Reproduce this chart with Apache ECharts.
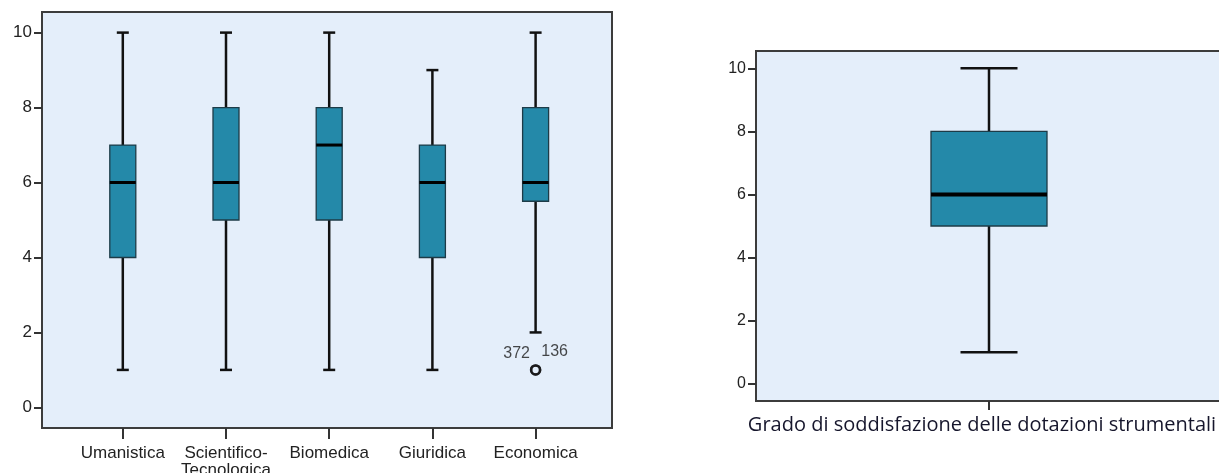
<!DOCTYPE html>
<html>
<head>
<meta charset="utf-8">
<script src="https://cdn.jsdelivr.net/npm/echarts@6/dist/echarts.min.js"></script>
<style>
  html, body { margin: 0; padding: 0; background: #ffffff; }
  #chart { width: 1219px; height: 473px; }
</style>
</head>
<body>
<div id="chart"></div>
<script>
// ---- Data ----
const categories = ['Umanistica', 'Scientifico-\nTecnologica', 'Biomedica', 'Giuridica', 'Economica'];
const mins    = [1, 1, 1, 1, 2];
const q1s     = [4, 5, 5, 4, 5.5];
const medians = [6, 6, 7, 6, 6];
const q3s     = [7, 8, 8, 7, 8];
const maxs    = [10, 10, 10, 9, 10];
const outlierCategoryIndex = 4;
const outlierValue = 1;
const outlierIds = ['372', '136'];

const totalCategory = ['Grado di soddisfazione delle dotazioni strumentali'];
const totalStats = [1, 5, 6, 8, 10]; // min, q1, median, q3, max

const yTicks = [0, 2, 4, 6, 8, 10];

// ---- Styles ----
const BG = '#E4EEFA';
const FRAME = '#3c3c3c';
const BOX_FILL = '#2489A9';
const BOX_STROKE = '#1d3b47';
const LINE = '#111111';

function makeRender(boxW, capW, medW) {
  return function (params, api) {
    const x = api.value(0);
    const pMin = api.coord([x, api.value(1)]);
    const pQ1 = api.coord([x, api.value(2)]);
    const pMed = api.coord([x, api.value(3)]);
    const pQ3 = api.coord([x, api.value(4)]);
    const pMax = api.coord([x, api.value(5)]);
    const cx = pMed[0];
    const lw = 2.5;
    const ls = { stroke: LINE, lineWidth: lw };
    return {
      type: 'group',
      children: [
        { type: 'line', shape: { x1: cx, y1: pMax[1], x2: cx, y2: pQ3[1] }, style: ls },
        { type: 'line', shape: { x1: cx, y1: pQ1[1], x2: cx, y2: pMin[1] }, style: ls },
        { type: 'line', shape: { x1: cx - capW / 2, y1: pMax[1], x2: cx + capW / 2, y2: pMax[1] }, style: ls },
        { type: 'line', shape: { x1: cx - capW / 2, y1: pMin[1], x2: cx + capW / 2, y2: pMin[1] }, style: ls },
        { type: 'rect', shape: { x: cx - boxW / 2, y: pQ3[1], width: boxW, height: pQ1[1] - pQ3[1] },
          style: { fill: BOX_FILL, stroke: BOX_STROKE, lineWidth: 1.3 } },
        { type: 'line', shape: { x1: cx - boxW / 2, y1: pMed[1], x2: cx + boxW / 2, y2: pMed[1] },
          style: { stroke: '#000000', lineWidth: medW } }
      ]
    };
  };
}

const leftData = categories.map((c, i) => [i, mins[i], q1s[i], medians[i], q3s[i], maxs[i]]);
const rightData = [[0].concat(totalStats)];

const yAxisCommon = (offset, fontSize) => ({
  type: 'value',
  min: -0.55,
  max: 10.55,
  offset: offset,
  axisLine: { show: false },
  splitLine: { show: false },
  axisTick: { show: true, customValues: yTicks, length: 8, lineStyle: { color: '#333', width: 2 } },
  axisLabel: { customValues: yTicks, fontFamily: 'Liberation Sans, Arial', fontSize: fontSize, color: '#222', margin: 10 }
});

const chart = echarts.init(document.getElementById('chart'), null, { renderer: 'canvas' });
chart.setOption({
  animation: false,
  backgroundColor: '#ffffff',
  grid: [
    { left: 42, top: 12, width: 570, height: 416, show: true, backgroundColor: BG, borderColor: FRAME, borderWidth: 2, outerBoundsMode: 'none', containLabel: false },
    { left: 71.2, top: 12, width: 516, height: 416, show: false, outerBoundsMode: 'none', containLabel: false },
    { left: 756, top: 51, right: -3, height: 350, show: true, backgroundColor: BG, borderColor: FRAME, borderWidth: 2, outerBoundsMode: 'none', containLabel: false }
  ],
  xAxis: [
    { gridIndex: 0, type: 'value', show: false },
    { gridIndex: 1, type: 'category', data: categories,
      axisLine: { show: false, onZero: false },
      axisTick: { show: true, alignWithLabel: true, length: 11, lineStyle: { color: '#333', width: 2 } },
      axisLabel: { fontFamily: 'Liberation Sans, Arial', fontSize: 17, color: '#222', margin: 17, lineHeight: 17, interval: 0 } },
    { gridIndex: 2, type: 'category', data: totalCategory,
      axisLine: { show: false, onZero: false },
      axisTick: { show: true, alignWithLabel: true, length: 9, lineStyle: { color: '#333', width: 2 } },
      axisLabel: { fontFamily: 'Open Sans', fontSize: 20, color: '#16162c', margin: 14, interval: 0, padding: [0, 14, 0, 0] } }
  ],
  yAxis: [
    { gridIndex: 0, type: 'value', show: false },
    Object.assign({ gridIndex: 1 }, yAxisCommon(29.2, 17)),
    Object.assign({ gridIndex: 2 }, yAxisCommon(0, 16))
  ],
  series: [
    { type: 'custom', xAxisIndex: 1, yAxisIndex: 1, data: leftData,
      encode: { x: 0, y: [1, 2, 3, 4, 5] }, renderItem: makeRender(26, 12, 3), z: 3 },
    { type: 'scatter', xAxisIndex: 1, yAxisIndex: 1, z: 4,
      symbol: 'circle', symbolSize: 9,
      itemStyle: { color: 'rgba(0,0,0,0)', borderColor: '#111', borderWidth: 2.5 },
      data: [
        { value: [outlierCategoryIndex, outlierValue],
          label: { show: true, formatter: outlierIds[0], position: 'inside', offset: [-19, -16] } },
        { value: [outlierCategoryIndex, outlierValue],
          label: { show: true, formatter: outlierIds[1], position: 'inside', offset: [19, -18] } }
      ],
      label: { fontFamily: 'Liberation Sans, Arial', fontSize: 16, color: '#1a1a1a', textBorderWidth: 0 } },
    { type: 'custom', xAxisIndex: 2, yAxisIndex: 2, data: rightData,
      encode: { x: 0, y: [1, 2, 3, 4, 5] }, renderItem: makeRender(116, 57, 4), z: 3 }
  ]
});
</script>
</body>
</html>
